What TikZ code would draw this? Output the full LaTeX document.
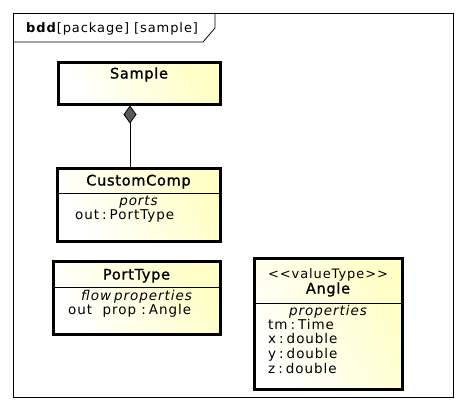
\documentclass[tikz,border=0pt]{standalone}
\usepackage{fontspec}
\setmainfont{DejaVu Sans}[LetterSpace=7]
\newfontfamily\namefont{DejaVu Sans}[LetterSpace=5,FakeBold=1.2]
\usetikzlibrary{arrows.meta}
\definecolor{umlyellow}{RGB}{255,255,198}
\newcommand{\gap}{\hspace{3pt}}
\tikzset{
	classbox/.style={draw,line width=3pt,inner sep=0pt,left color=white,right color=umlyellow,shading angle=120},
	sepline/.style={line width=0.8pt},
	textline/.style={inner sep=0pt,text height=10pt,text depth=3pt},
	nametext/.style={textline,font=\fontsize{14.5}{16}\namefont},
	stereotext/.style={textline,font=\fontsize{13}{15}\selectfont},
	compartment/.style={textline,font=\fontsize{13.5}{15}\selectfont\itshape},
	attr/.style={textline,anchor=west,font=\fontsize{13.5}{15}\selectfont},
	comp/.style={{Diamond[fill=gray!70!black,length=18pt,width=13pt]}-,line width=0.8pt}
}
\begin{document}
\begin{tikzpicture}[x=1pt,y=-1pt]
	\useasboundingbox (0,0) rectangle (465,412);
	\draw[line width=0.8pt] (13,13) rectangle (453,397);
	\draw[line width=0.8pt] (13,42) -- (203,42) -- (215,28) -- (215,13);
	\node[attr,font=\fontsize{13}{15}\selectfont] (frameLabel) at (26,29) {\textbf{bdd}[package] [sample]};
	\node[classbox,minimum width=162pt,minimum height=42pt] (sample) at (139,83) {};
	\node[nametext] (sampleName) at (139,75) {Sample};
	\node[classbox,minimum width=163pt,minimum height=73pt] (custom) at (138.5,204.5) {};
	\node[nametext] (customName) at (138.5,182) {CustomComp};
	\draw[sepline] (custom.west |- 0,193) -- (custom.east |- 0,193);
	\node[compartment] (customPorts) at (138.5,202) {ports};
	\node[attr] (customOut) at (75,215.5) {out\gap:\gap PortType};
	\node[classbox,minimum width=167pt,minimum height=73pt] (port) at (136.5,297.5) {};
	\node[nametext] (portName) at (136.5,276) {PortType};
	\draw[sepline] (port.west |- 0,287) -- (port.east |- 0,287);
	\node[compartment] (portFlow) at (136.5,296.5) {flow\gap properties};
	\node[attr] (portOut) at (68,310.5) {out\ \ prop\ :\gap Angle};
	\node[classbox,minimum width=148pt,minimum height=131pt] (angle) at (328,323.5) {};
	\node[stereotext] (angleStereo) at (328,275) {{<}{<}valueType{>}{>}};
	\node[nametext] (angleName) at (328,290) {Angle};
	\draw[sepline] (angle.west |- 0,303) -- (angle.east |- 0,303);
	\node[compartment] (angleProps) at (328,311.5) {properties};
	\node[attr] (angleTm) at (268,325.5) {tm\gap:\gap Time};
	\node[attr] (angleX) at (268,340) {x\gap:\gap double};
	\node[attr] (angleY) at (268,355) {y\gap:\gap double};
	\node[attr] (angleZ) at (268,370) {z\gap:\gap double};
	\draw[comp] ([xshift=-9pt]sample.south) -- ([xshift=-9pt]sample.south |- custom.north);
\end{tikzpicture}
\end{document}
